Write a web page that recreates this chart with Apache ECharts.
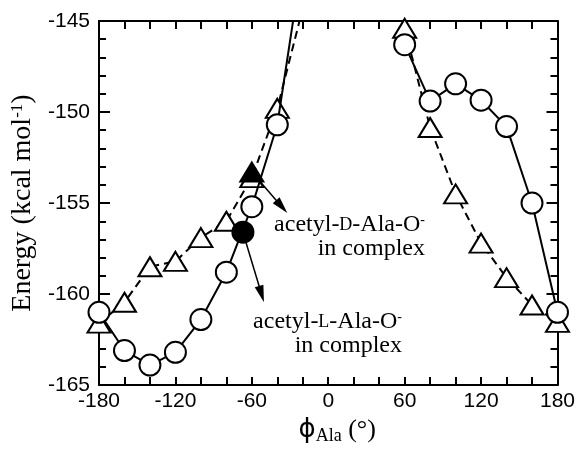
<!DOCTYPE html>
<html>
<head>
<meta charset="utf-8">
<script src="https://cdn.jsdelivr.net/npm/echarts@6/dist/echarts.min.js"></script>
<style>
  html, body { margin: 0; padding: 0; background: #fff; }
  #chart { width: 578px; height: 450px; }
</style>
</head>
<body>
<div id="chart"></div>
<script>
// phi_Ala (deg), one entry every 20 degrees
const phi = [-180, -160, -140, -120, -100, -80, -60, -40, -20, 0, 20, 40, 60, 80, 100, 120, 140, 160, 180];
// acetyl-L-Ala-O- (circles, solid line); null = not drawn
const energyL = [-161.0, -163.1, -163.9, -163.2, -161.4, -158.8, -155.2, -150.7, -141.5, null, null, null,
  -146.3, -149.4, -148.45, -149.35, -150.8, -155.0, -161.0];
// acetyl-D-Ala-O- (triangles, dashed line)
const energyD = [-161.6, -160.45, -158.5, -158.2, -156.9, -156.0, -153.6, -149.8, -144.3, null, null, null,
  -145.4, -150.85, -154.5, -157.2, -159.1, -160.6, -161.55];
// in complex
const complexL = [-67, -156.6];
const complexD = [-60, -153.3];
const arrowLEnd = [-52.4, -160.0];
const arrowDEnd = [-36.5, -155.2];

const toPairs = (xs, ys) => xs.map((x, i) => [x, ys[i] == null ? '-' : ys[i]]);

const chart = echarts.init(document.getElementById('chart'));

const serif = '"Liberation Serif", "DejaVu Serif", serif';
const sans = '"Liberation Sans", Arial, sans-serif';

const tickAxisX = (pos, labels) => ({
  type: 'value', position: pos, min: -180, max: 180, interval: 20,
  axisLine: { onZero: false, lineStyle: { color: '#000', width: 2 } },
  axisTick: { inside: true, length: 8, lineStyle: { color: '#000', width: 2 } },
  axisLabel: {
    show: labels, margin: 6, color: '#000', fontFamily: sans, fontSize: 21,
    formatter: v => (v % 60 === 0 ? String(v) : '')
  },
  splitLine: { show: false }
});

const tickAxisY = (pos, labels) => ({
  type: 'value', position: pos, min: -165, max: -145, interval: 5,
  axisLine: { onZero: false, lineStyle: { color: '#000', width: 2 } },
  axisTick: { inside: true, length: 11, lineStyle: { color: '#000', width: 2 } },
  minorTick: { show: true, splitNumber: 5, length: 7, lineStyle: { color: '#000', width: 2 } },
  axisLabel: { show: labels, margin: 9, color: '#000', fontFamily: sans, fontSize: 21 },
  splitLine: { show: false }
});

const xBottom = tickAxisX('bottom', true);
xBottom.name = '{phi|ϕ}{sub|Ala}{n| (°)}';
xBottom.nameLocation = 'middle';
xBottom.nameGap = 29;
xBottom.nameTextStyle = {
  padding: [0, 0, 0, 18],
  rich: {
    phi: { fontFamily: '"DejaVu Sans", sans-serif', fontSize: 26, color: '#000' },
    sub: { fontFamily: serif, fontSize: 18, color: '#000', padding: [12, 0, 0, 0] },
    n: { fontFamily: serif, fontSize: 26, color: '#000' }
  }
};
const xTop = tickAxisX('top', false);

const yLeft = tickAxisY('left', true);
yLeft.name = '{a|Energy (kcal mol}{sup|-1}{a|)}';
yLeft.nameLocation = 'middle';
yLeft.nameGap = 52;
yLeft.nameTextStyle = {
  rich: {
    a: { fontFamily: serif, fontSize: 28, color: '#000' },
    sup: { fontFamily: serif, fontSize: 17, color: '#000', verticalAlign: 'top', lineHeight: 17 }
  }
};
const yRight = tickAxisY('right', false);

const annoRich = {
  t: { fontFamily: serif, fontSize: 24, color: '#000', lineHeight: 24 },
  sc: { fontFamily: serif, fontSize: 18, color: '#000', lineHeight: 24 },
  sup: { fontFamily: serif, fontSize: 14, color: '#000', verticalAlign: 'top', lineHeight: 13 }
};

const arrow = (from, to) => ({
  silent: true,
  symbol: ['none', 'path://M5,0 L10,20 L0,20 Z'],
  symbolSize: [9, 17],
  label: { show: false },
  itemStyle: { color: '#000' },
  lineStyle: { color: '#000', width: 1.5, type: 'solid', opacity: 1 },
  data: [[{ coord: from }, { coord: to }]]
});

const option = {
  backgroundColor: '#fff',
  animation: false,
  grid: { left: 99, right: 20, top: 21, bottom: 58 },
  xAxis: [xBottom, xTop],
  yAxis: [yLeft, yRight],
  series: [
    {
      name: 'D', type: 'line', clip: true,
      data: toPairs(phi, energyD),
      symbol: 'triangle', symbolSize: [23, 19],
      itemStyle: { color: '#fff', borderColor: '#000', borderWidth: 2 },
      lineStyle: { color: '#000', width: 2, type: [8, 5] },
      z: 2
    },
    {
      name: 'L', type: 'line', clip: true,
      data: toPairs(phi, energyL),
      symbol: 'circle', symbolSize: 21,
      itemStyle: { color: '#fff', borderColor: '#000', borderWidth: 2 },
      lineStyle: { color: '#000', width: 2 },
      z: 3
    },
    {
      name: 'complex D', type: 'scatter',
      data: [complexD],
      symbol: 'triangle', symbolSize: [23, 19],
      itemStyle: { color: '#000', borderColor: '#000', borderWidth: 2, opacity: 1 },
      z: 4,
      markLine: arrow(complexD, arrowDEnd)
    },
    {
      name: 'complex L', type: 'scatter',
      data: [complexL],
      symbol: 'circle', symbolSize: 21,
      itemStyle: { color: '#000', borderColor: '#000', borderWidth: 2, opacity: 1 },
      z: 4,
      markLine: arrow(complexL, arrowLEnd)
    }
  ],
  graphic: [
    {
      type: 'text', x: 425, y: 213, z: 10,
      style: {
        text: '{t|acetyl-}{sc|D}{t|-Ala-O}{sup|-}\n{t|in complex}',
        align: 'right', verticalAlign: 'top', rich: annoRich
      }
    },
    {
      type: 'text', x: 402, y: 310, z: 10,
      style: {
        text: '{t|acetyl-}{sc|L}{t|-Ala-O}{sup|-}\n{t|in complex}',
        align: 'right', verticalAlign: 'top', rich: annoRich
      }
    }
  ]
};

chart.setOption(option);
</script>
</body>
</html>
